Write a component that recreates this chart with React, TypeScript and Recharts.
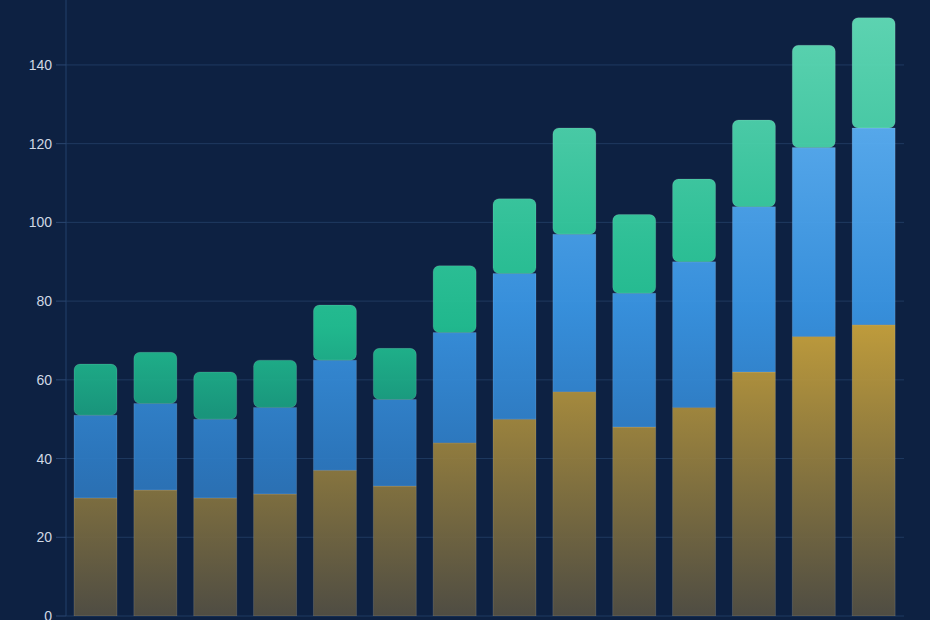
import React from "react";
import { BarChart, Bar, XAxis, YAxis, CartesianGrid } from "recharts";

const categories = ["1", "2", "3", "4", "5", "6", "7", "8", "9", "10", "11", "12", "13", "14"];
const goldValues = [30, 32, 30, 31, 37, 33, 44, 50, 57, 48, 53, 62, 71, 74];
const blueValues = [21, 22, 20, 22, 28, 22, 28, 37, 40, 34, 37, 42, 48, 50];
const greenValues = [13, 13, 12, 12, 14, 13, 17, 19, 27, 20, 21, 22, 26, 28];
const yTicks = [0, 20, 40, 60, 80, 100, 120, 140];

const data = categories.map((c, i) => ({
  name: c,
  gold: goldValues[i],
  blue: blueValues[i],
  green: greenValues[i],
}));

const BG = "#0d2142";

export default function App() {
  return (
    <div style={{ position: "absolute", left: 0, top: 0, width: 930, height: 620, background: BG }}>
      <BarChart
        width={930}
        height={620}
        data={data}
        margin={{ top: 0, right: 26, bottom: 4, left: 0 }}
        barSize={43}
      >
        <defs>
          <linearGradient id="gGold" gradientUnits="userSpaceOnUse" x1="0" y1="0" x2="0" y2="616">
            <stop offset="0" stopColor="#dcb23c" />
            <stop offset="0.53" stopColor="#cba43b" />
            <stop offset="0.8" stopColor="#86743f" />
            <stop offset="1" stopColor="#545043" />
          </linearGradient>
          <linearGradient id="gBlue" gradientUnits="userSpaceOnUse" x1="0" y1="0" x2="0" y2="616">
            <stop offset="0" stopColor="#66b9fa" />
            <stop offset="0.2" stopColor="#5cb2f7" />
            <stop offset="0.5" stopColor="#3a97e6" />
            <stop offset="0.75" stopColor="#2e7bc3" />
            <stop offset="1" stopColor="#2a64a0" />
          </linearGradient>
          <linearGradient id="gGreen" gradientUnits="userSpaceOnUse" x1="0" y1="0" x2="0" y2="616">
            <stop offset="0" stopColor="#66e2bb" />
            <stop offset="0.2" stopColor="#4ed6ad" />
            <stop offset="0.4" stopColor="#30cb9c" />
            <stop offset="0.53" stopColor="#22c393" />
            <stop offset="0.67" stopColor="#1a9e80" />
            <stop offset="1" stopColor="#157d6c" />
          </linearGradient>
        </defs>
        <CartesianGrid vertical={false} stroke="#1f3a60" strokeWidth={1} horizontalValues={yTicks} />
        <XAxis
          dataKey="name"
          tick={false}
          tickLine={false}
          height={0}
          axisLine={{ stroke: "#2a4670" }}
        />
        <YAxis
          domain={[0, 156.5]}
          ticks={yTicks}
          interval={0}
          width={66}
          tickSize={10}
          tickMargin={4}
          allowDataOverflow
          axisLine={{ stroke: "#22406a" }}
          tickLine={{ stroke: "#2a4670" }}
          tick={{ fill: "#d0d8e4", fontSize: 14, fontFamily: "Liberation Sans, Arial, sans-serif" }}
        />
        <Bar dataKey="gold" stackId="s" fill="url(#gGold)" fillOpacity={0.93} stroke="rgba(255,255,255,0.12)" strokeWidth={1} isAnimationActive={false} />
        <Bar dataKey="blue" stackId="s" fill="url(#gBlue)" fillOpacity={0.93} stroke="rgba(255,255,255,0.12)" strokeWidth={1} isAnimationActive={false} />
        <Bar dataKey="green" stackId="s" fill="url(#gGreen)" fillOpacity={0.93} stroke="rgba(255,255,255,0.12)" strokeWidth={1} radius={6} isAnimationActive={false} />
      </BarChart>
    </div>
  );
}
